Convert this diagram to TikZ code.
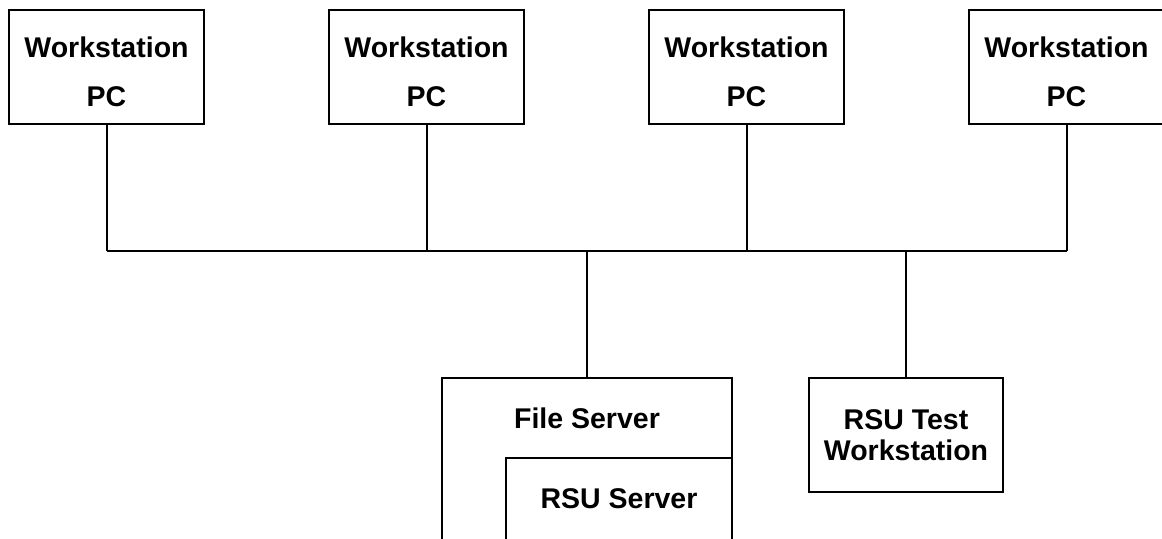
\documentclass[tikz,border=0pt]{standalone}
\usepackage{fontspec}
\setmainfont{Liberation Sans}
\usetikzlibrary{positioning, calc}
\newcommand{\netfont}{\fontsize{14.25}{24.5}\selectfont\bfseries}
\newcommand{\testfont}{\fontsize{14.25}{15.5}\selectfont\bfseries}
\tikzset{
    wsbox/.style={
        draw, line width=1pt, minimum width=97.5pt, minimum height=57pt,
        inner sep=0pt, align=center, font=\netfont
    },
    srvbox/.style={
        draw, line width=1pt, inner sep=0pt
    },
    lbl/.style={
        font=\netfont, inner sep=0pt, anchor=base
    },
    link/.style={
        line width=1pt
    }
}

\begin{document}
\begin{tikzpicture}[x=0.5pt, y=-0.5pt]
    \clip (0,0) rectangle (1162,538);

    % --- workstations ---
    \foreach \i in {1,...,4}{
        \node[wsbox] (ws\i) at ({106.5+320*(\i-1)},67)
            {\rule{0pt}{15.5pt}Workstation\\PC};
    }

    % --- bus ---
    \coordinate (busL) at (106.5,251);
    \coordinate (busR) at (1066.5,251);
    \draw[link] (busL) -- (busR);
    \foreach \i in {1,...,4}{
        \draw[link] (ws\i.south) -- (ws\i.south |- busL);
    }

    % --- file server with RSU server inside ---
    \node[srvbox, minimum width=145pt, minimum height=82pt] (fs) at (587,460) {};
    \node[lbl] (fstxt) at (587,428) {File Server};
    \node[srvbox, minimum width=113pt, minimum height=42pt] (rsu) at (619,500) {};
    \node[lbl] (rsutxt) at (619,508) {RSU Server};

    % --- test workstation ---
    \node[wsbox, minimum width=97pt, font=\testfont] (rt) at (906,435)
        {RSU Test\\Workstation};

    \draw[link] (fs.north) -- (fs.north |- busL);
    \draw[link] (rt.north) -- (rt.north |- busL);
\end{tikzpicture}
\end{document}
